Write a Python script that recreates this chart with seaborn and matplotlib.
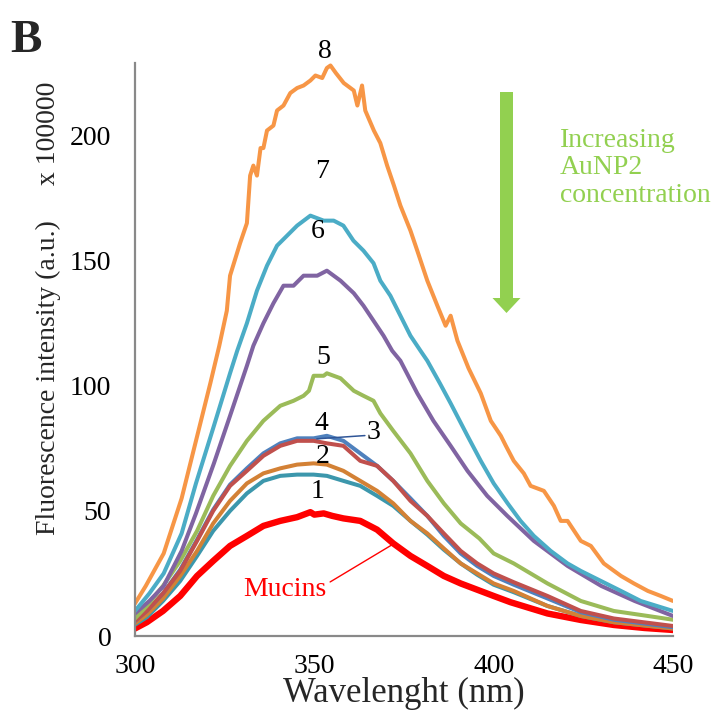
import matplotlib
matplotlib.use("Agg")
import matplotlib.pyplot as plt
from matplotlib.patches import FancyArrow
import seaborn as sns
import pandas as pd

# Emission spectra (intensity in units of 1e5 a.u.)
wl_8 = [300, 303, 308, 313, 317, 321, 323.5, 325.6, 326.5, 329.3, 331.2, 332.1, 333, 334, 335,
        335.8, 336.8, 338.6, 339.6, 341.4, 343.3, 345.2, 347, 348.9, 350.3, 352.2, 353.5, 354.5,
        356, 358.2, 361, 362, 363.3, 364.2, 366.6, 368.4, 370.3, 372.2, 374, 376.8, 378.7, 381.5,
        384.3, 386.6, 388, 389.9, 393, 396.4, 399.2, 402, 403.4, 405.6, 408.4, 410.3, 414, 416.8,
        418.7, 420.6, 424.3, 427.1, 430.7, 435.5, 439.1, 443, 446.6, 450]
int_8 = [13, 20, 33, 55, 78, 101, 116, 130, 144, 157, 165, 184, 188, 184, 195,
         195, 202, 204, 210, 212, 217, 219, 220, 222, 224, 223, 227, 228,
         225, 221, 218, 212, 220, 210, 202, 197, 188, 180, 172, 162, 154, 142,
         132, 124, 128, 118, 107, 97, 86, 80, 76, 70, 65, 60, 58, 52,
         46, 46, 38, 36, 29, 24, 21, 18, 16, 14]

wl_7 = [300, 304, 308, 313, 317, 322, 326.5, 328.5, 331.2, 334, 336.8, 339.6, 342.4, 345.2, 348.9,
        352.6, 355.4, 358.1, 360.9, 363.7, 366.5, 368.4, 371.2, 374, 376.8, 379.6, 381.5, 385, 388,
        392.7, 396.4, 400, 403.9, 407.5, 411.2, 415.9, 420.6, 424.3, 429.9, 435.5, 441, 450]
int_7 = [10, 17, 25, 41, 61, 84, 105, 114, 125, 138, 148, 156, 160, 164, 168,
         166, 166, 164, 158, 154, 149, 142, 136, 128, 120, 114, 110, 101, 93,
         80, 70, 61, 53, 46, 40, 34, 29, 26, 22, 18, 14, 10]

wl_6 = [300, 304, 308, 313, 317, 322, 326.5, 331.2, 333, 335.8, 338.6, 341.4, 344.2, 347, 350.8,
        353.5, 357.3, 361, 363.7, 366.5, 369.3, 371.7, 374, 378.7, 383.2, 388, 392.7, 398.2,
        403.8, 411.2, 420.6, 430, 439.3, 450]
int_6 = [9, 14, 20, 34, 49, 69, 88, 108, 116, 125, 133, 140, 140, 144, 144,
         146, 142, 137, 132, 126, 120, 114, 110, 97, 86, 76, 66, 56,
         48, 38, 28, 20, 14, 8]

wl_5 = [300, 303.3, 307.8, 312.6, 317.3, 321.8, 326.5, 331.2, 335.8, 340.5, 344.2, 347, 348.5,
        349.8, 352.6, 353.5, 357.3, 361, 363.7, 366.5, 368.4, 372, 376.8, 381.5, 386.1, 390.8,
        396, 400, 405.6, 415, 424.3, 433.5, 443, 450]
int_5 = [7, 12, 20, 30, 42, 56, 68, 78, 86, 92, 94, 96, 98,
         104, 104, 105, 103, 98, 96, 94, 89, 82, 73, 62, 53, 45,
         39, 33, 29, 21, 14, 10, 8, 6.5]

wl_low = [300, 303.3, 307.8, 312.6, 317.3, 321.8, 326.5, 331.2, 335.8, 340.5, 345.2, 349.8,
          353.5, 358.1, 362.8, 367.5, 372, 376.8, 381.5, 386.1, 390.8, 395.4, 400, 405.6,
          415, 424.3, 433.5, 450]
int_4 = [6, 10, 17, 26, 38, 50, 60, 66, 72, 76, 78, 78,
         77, 76, 70, 68, 62, 54, 48, 41, 34, 29, 25, 21.5,
         16, 10, 7, 4]
int_3 = [6, 10, 17, 26.5, 38.5, 50.5, 60.5, 67, 73, 77, 79, 79,
         80, 78, 73, 68, 62, 55, 48, 40, 33, 28, 24, 20.5,
         15, 9.5, 6.5, 3.5]
int_2 = [5, 8.5, 15, 24, 34, 45, 54, 61, 65, 67, 68.5, 69,
         68.5, 66, 62, 58, 53, 46, 41, 35, 29, 25, 21, 18,
         12, 8, 5.5, 3]
int_1 = [4.5, 7.5, 14, 22, 32, 42, 50, 57, 62, 64, 64.5, 64.5,
         64, 62, 60, 56, 52, 46, 40.5, 34.5, 29, 24.5, 20.5, 17.5,
         12, 8, 5.5, 3]

wl_muc = [300, 303.3, 307.8, 312.6, 317.3, 321.8, 326.5, 331.2, 335.8, 340.5, 345.2, 348.9, 350,
          352.6, 355, 358.1, 362.8, 367.5, 372, 376.8, 381.5, 386.1, 390.8, 395.4, 400, 404.7,
          415, 424.3, 433.5, 442, 450]
int_muc = [3, 5.5, 10, 16, 24, 30, 36, 40, 44, 46, 47.5, 49.5, 48.5,
           49, 48, 47, 46, 42.5, 37, 32, 28, 24, 21, 18.5, 16, 13.5,
           9, 6.4, 4.4, 3.2, 2.4]

series_names = ["Mucins", "1", "2", "3", "4", "5", "6", "7", "8"]
series_wl = [wl_muc, wl_low, wl_low, wl_low, wl_low, wl_5, wl_6, wl_7, wl_8]
series_int = [int_muc, int_1, int_2, int_3, int_4, int_5, int_6, int_7, int_8]
series_colors = ["#FF0000", "#3C97AC", "#D38135", "#4F81BD", "#C0504D",
                 "#9BBB59", "#8064A2", "#4BACC6", "#F79646"]
series_widths = [4.6, 2.9, 2.9, 2.9, 2.9, 2.9, 2.9, 2.9, 2.9]

# curve number labels: text, x, y (data coords)
label_text = ["8", "7", "6", "5", "4", "3", "2", "1"]
label_x = [352.8, 352.2, 350.8, 352.5, 352.0, 366.6, 352.3, 350.8]
label_y = [233.6, 185.6, 161.6, 111.2, 84.8, 81.2, 71.6, 57.6]

frames = []
for name, w, v in zip(series_names, series_wl, series_int):
    frames.append(pd.DataFrame({"wavelength": w, "intensity": v, "sample": name}))
df = pd.concat(frames, ignore_index=True)

sns.set_style("white")
plt.rcParams["font.family"] = ["Liberation Serif", "DejaVu Serif"]

fig = plt.figure(figsize=(7.19, 7.19), dpi=100)
ax = fig.add_axes([135 / 719, 1 - 636 / 719, (673 - 135) / 719, (636 - 63) / 719])

for name in series_names:
    i = series_names.index(name)
    sub = df[df["sample"] == name]
    sns.lineplot(data=sub, x="wavelength", y="intensity", ax=ax, color=series_colors[i],
                 linewidth=series_widths[i], estimator=None, sort=False,
                 solid_capstyle="round", solid_joinstyle="round", legend=False)

ax.set_xlim(300, 450)
ax.set_ylim(0, 229)
ax.set_xticks([300, 350, 400, 450])
ax.set_yticks([0, 50, 100, 150, 200])
ax.tick_params(axis="both", direction="in", length=7, width=1.3, color="#898989",
               labelsize=20, labelcolor="black")
ax.tick_params(axis="y", pad=17)
ax.tick_params(axis="x", pad=13)
for side in ["top", "right"]:
    ax.spines[side].set_visible(False)
for side in ["left", "bottom"]:
    ax.spines[side].set_color("#898989")
    ax.spines[side].set_linewidth(1.6)
ax.set_xlabel("")
ax.set_ylabel("")

fig.text(404 / 719, 1 - 702 / 719, "Wavelenght (nm)", ha="center", va="baseline", fontsize=25)
fig.text(48 / 719, 1 - 308 / 719, "Fluorescence intensity (a.u.)     x 100000",
         rotation=90, ha="center", va="center", fontsize=20)
fig.text(10 / 719, 1 - 52 / 719, "B", ha="left", va="baseline", fontsize=34, fontweight="bold")

for t, x, y in zip(label_text, label_x, label_y):
    ax.text(x, y, t, ha="center", va="center", fontsize=20, color="black")

# leader lines
ax.plot([350.7, 364.1], [78.8, 80.1], color="#2F5597", linewidth=1.1)
ax.text(341.8, 18.4, "Mucins", ha="center", va="center", fontsize=20, color="#FF0000")
ax.plot([354.4, 371.6], [21.6, 36.4], color="#FF0000", linewidth=1.0)

# concentration arrow and note
arrow = FancyArrow(506.5 / 719, 1 - 92 / 719, 0, -(313 - 92) / 719, width=13 / 719,
                   head_width=28 / 719, head_length=15 / 719, length_includes_head=True,
                   color="#92D050", transform=fig.transFigure, linewidth=0)
fig.add_artist(arrow)
fig.text(560 / 719, 1 - 128 / 719, "Increasing\nAuNP2\nconcentration", ha="left", va="top",
         fontsize=20, color="#92D050", linespacing=1.12)

fig.savefig("out.png", dpi=100)
